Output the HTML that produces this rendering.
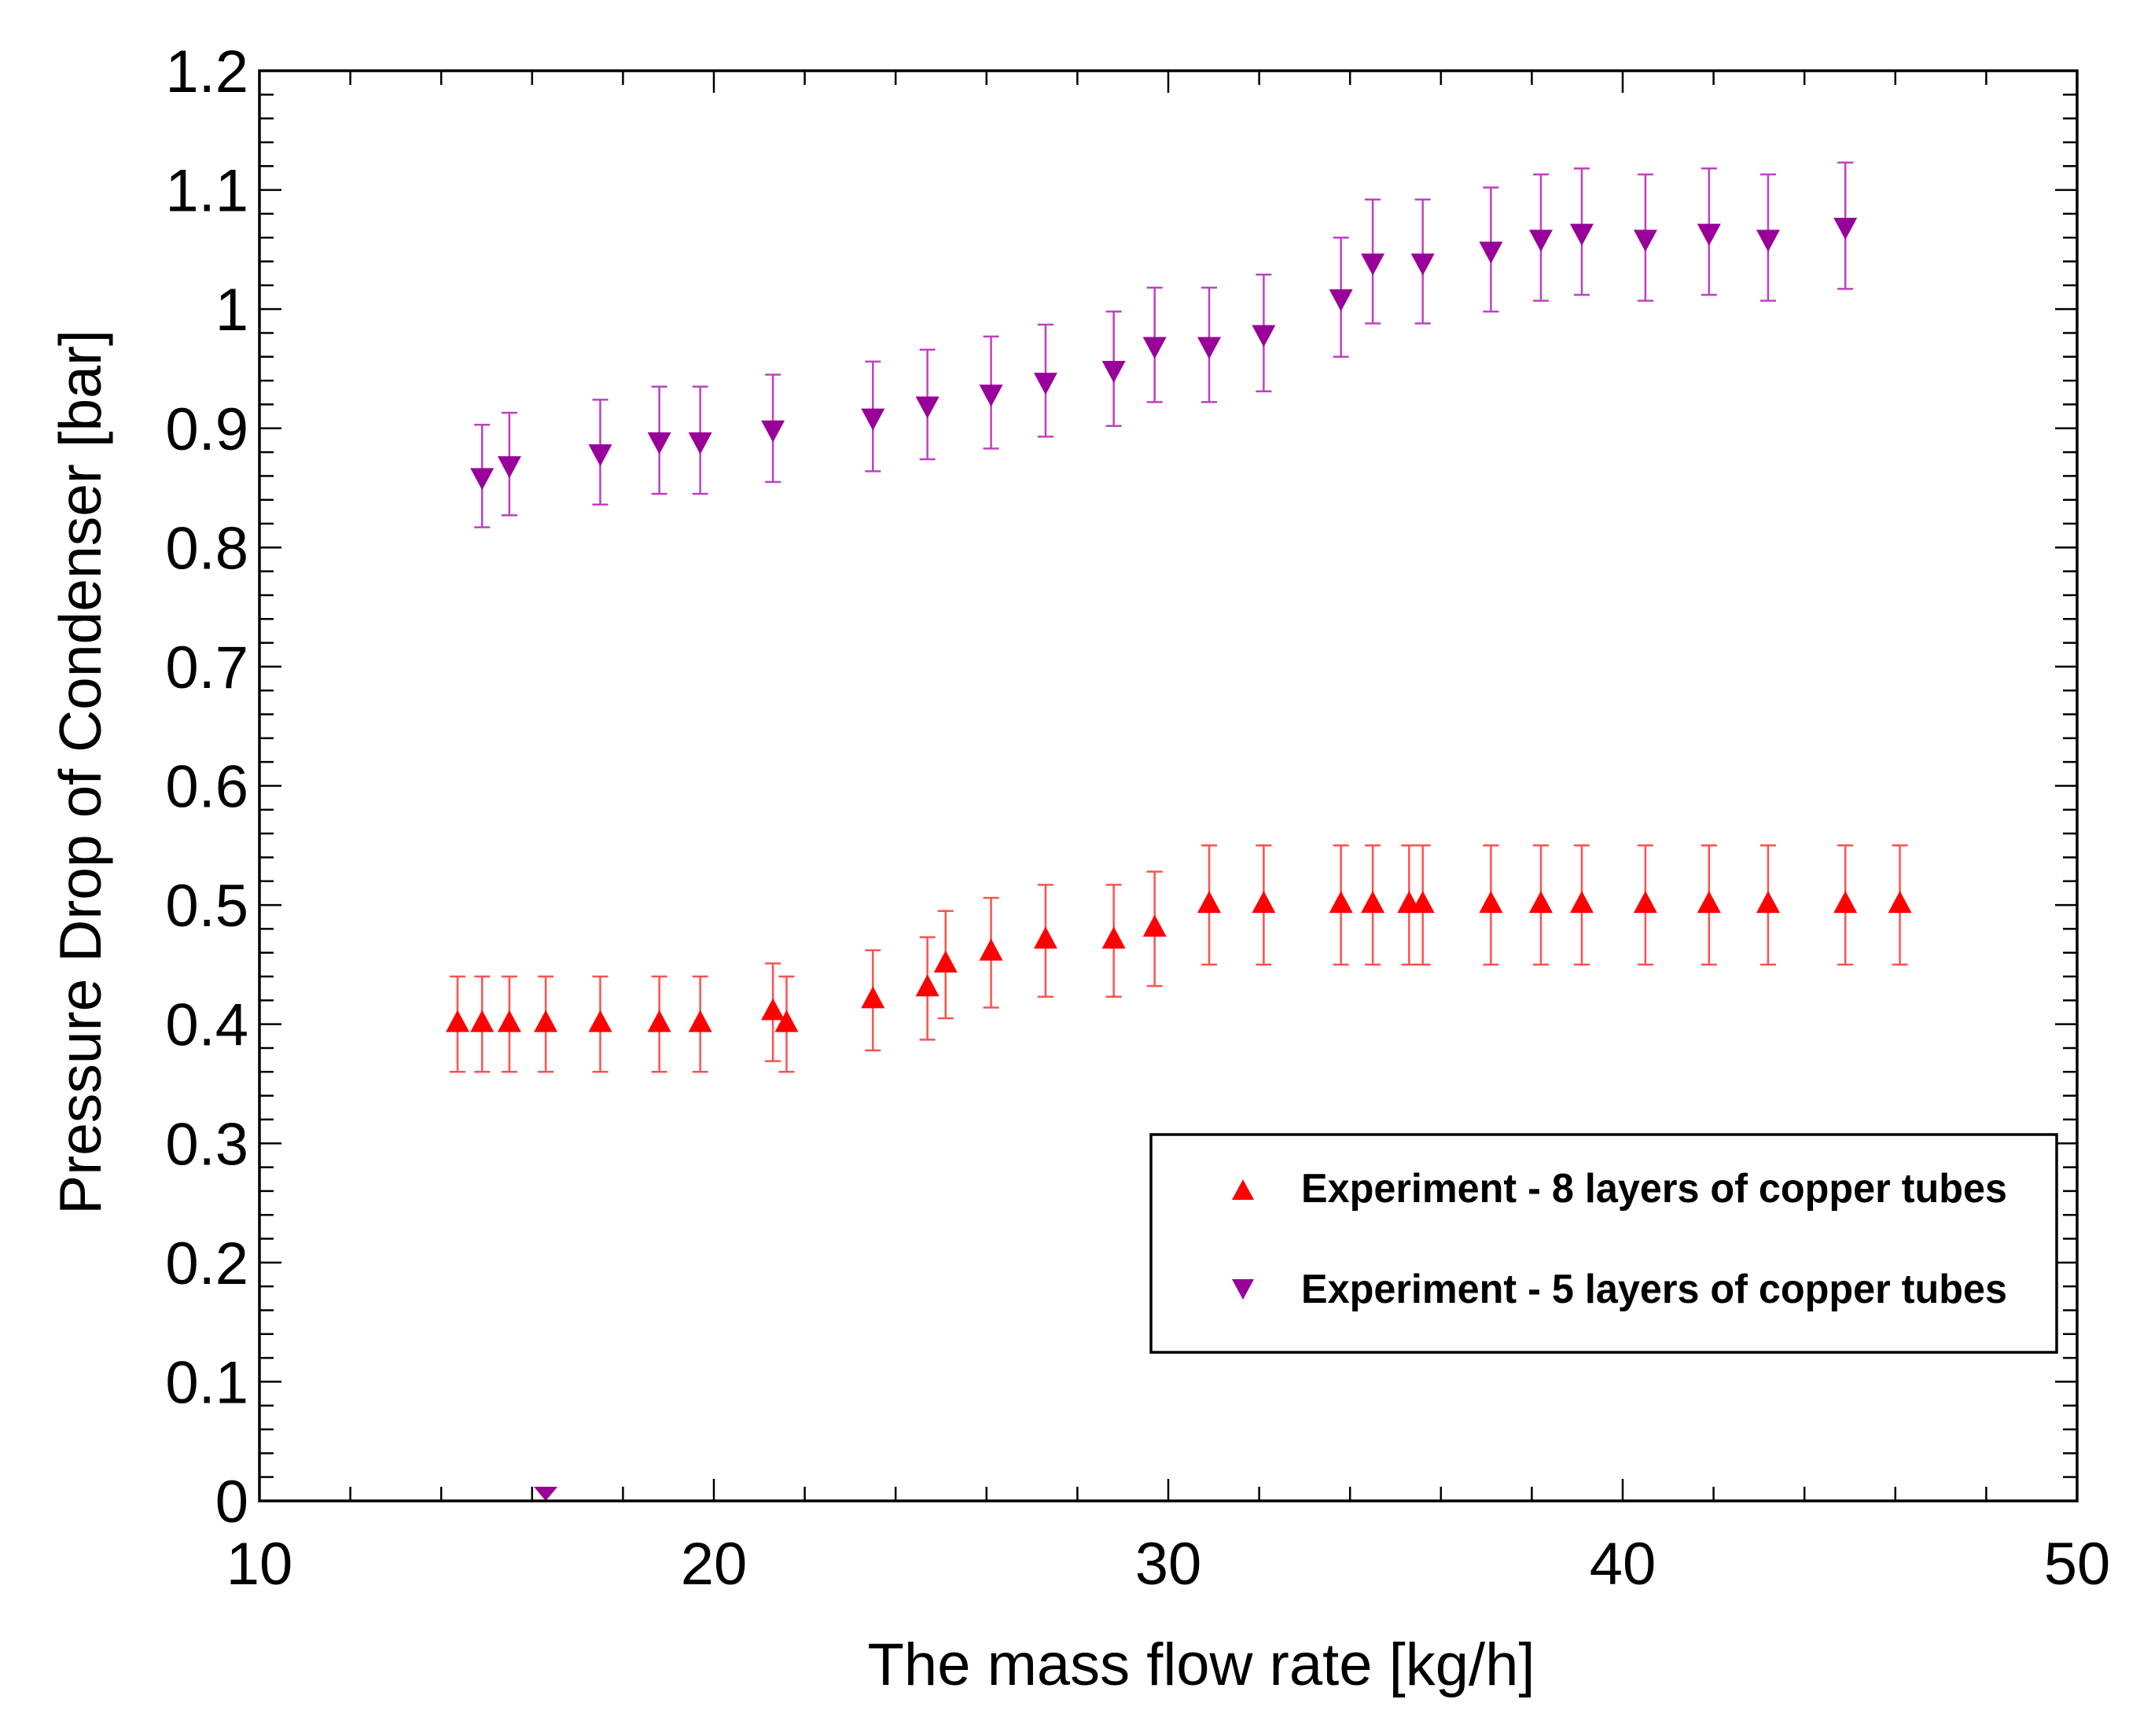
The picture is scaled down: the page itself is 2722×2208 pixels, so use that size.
<!DOCTYPE html>
<html><head><meta charset="utf-8"><style>
html,body{margin:0;padding:0;background:#fff;}
svg{display:block;font-family:"Liberation Sans",sans-serif;}
</style></head><body>
<svg id="chart" width="2722" height="2208" viewBox="0 0 2722 2208" xmlns="http://www.w3.org/2000/svg">
<g id="axes"></g>
<g id="series"></g>
<rect x="330" y="90" width="2312" height="1819" fill="none" stroke="#000" stroke-width="3.5"/>
<text x="1528" y="2143" font-size="76" text-anchor="middle">The mass flow rate [kg/h]</text>
<text transform="translate(128,982) rotate(-90)" font-size="75" text-anchor="middle">Pressure Drop of Condenser [bar]</text>
<g>
<rect x="1464" y="1443" width="1152" height="277" fill="#fff" stroke="#000" stroke-width="3.5"/>
<polygon points="1581,1500 1567,1526 1595,1526" fill="#ff0000"/>
<text x="1655" y="1529" font-size="52" font-weight="bold" font-family="'Liberation Sans Narrow','Liberation Sans',sans-serif" textLength="898" lengthAdjust="spacingAndGlyphs">Experiment - 8 layers of copper tubes</text>
<polygon points="1567,1627 1595,1627 1581,1653" fill="#990099"/>
<text x="1655" y="1657" font-size="52" font-weight="bold" font-family="'Liberation Sans Narrow','Liberation Sans',sans-serif" textLength="898" lengthAdjust="spacingAndGlyphs">Experiment - 5 layers of copper tubes</text>
</g>
</svg>
<script>
const xTicks = [10, 20, 30, 40, 50];
const yTicks = [0, 0.1, 0.2, 0.3, 0.4, 0.5, 0.6, 0.7, 0.8, 0.9, 1, 1.1, 1.2];
const yTickLabels = ["0","0.1","0.2","0.3","0.4","0.5","0.6","0.7","0.8","0.9","1","1.1","1.2"];
const redX = [14.36,14.9,15.5,16.3,17.5,18.8,19.7,21.3,21.6,23.5,24.7,25.1,26.1,27.3,28.8,29.7,30.9,32.1,33.8,34.5,35.3,35.6,37.1,38.2,39.1,40.5,41.9,43.2,44.9,46.1];
const redY = [0.4,0.4,0.4,0.4,0.4,0.4,0.4,0.41,0.4,0.42,0.43,0.45,0.46,0.47,0.47,0.48,0.5,0.5,0.5,0.5,0.5,0.5,0.5,0.5,0.5,0.5,0.5,0.5,0.5,0.5];
const redErr = [0.04,0.04,0.04,0.04,0.04,0.04,0.04,0.041,0.04,0.042,0.043,0.045,0.046,0.047,0.047,0.048,0.05,0.05,0.05,0.05,0.05,0.05,0.05,0.05,0.05,0.05,0.05,0.05,0.05,0.05];
const purX = [14.9,15.5,17.5,18.8,19.7,21.3,23.5,24.7,26.1,27.3,28.8,29.7,30.9,32.1,33.8,34.5,35.6,37.1,38.2,39.1,40.5,41.9,43.2,44.9];
const purY = [0.86,0.87,0.88,0.89,0.89,0.90,0.91,0.92,0.93,0.94,0.95,0.97,0.97,0.98,1.01,1.04,1.04,1.05,1.06,1.065,1.06,1.065,1.06,1.07];
const purErr = [0.043,0.043,0.044,0.045,0.045,0.045,0.046,0.046,0.047,0.047,0.048,0.048,0.048,0.049,0.05,0.052,0.052,0.052,0.053,0.053,0.053,0.053,0.053,0.053];
const strayX = [16.3];
const strayY = [0];

const L=330,R=2642,T=90,B=1909;
const sx=v=>L+(v-10)/40*(R-L);
const sy=v=>B-v/1.2*(B-T);
const NS="http://www.w3.org/2000/svg";
function mk(tag,attrs,parent){const e=document.createElementNS(NS,tag);for(const k in attrs)e.setAttribute(k,attrs[k]);parent.appendChild(e);return e;}
const ax=document.getElementById('axes');
const se=document.getElementById('series');
for(let v=10;v<=50;v+=2){
  const major=(v%10===0);const len=major?28:18;const x=sx(v);
  const t1=mk('line',{x1:x,x2:x,y1:B,y2:B-len,stroke:'#000','stroke-width':2.5},ax);
  
  
  const t2=mk('line',{x1:x,x2:x,y1:T,y2:T+len,stroke:'#000','stroke-width':2.5},ax);
  
  
}
xTicks.forEach(v=>{
  const t=mk('text',{x:sx(v),y:2015,'font-size':76,'text-anchor':'middle'},ax);t.textContent=v;
  
  
});
for(let i=0;i<=60;i++){
  const v=i*0.02;const major=(i%5===0);const len=major?28:18;const y=sy(v);
  const t1=mk('line',{x1:L,x2:L+len,y1:y,y2:y,stroke:'#000','stroke-width':2.5},ax);
  
  
  const t2=mk('line',{x1:R,x2:R-len,y1:y,y2:y,stroke:'#000','stroke-width':2.5},ax);
  
  
}
yTicks.forEach((v,i)=>{
  const t=mk('text',{x:316,y:sy(v)+27,'font-size':76,'text-anchor':'end'},ax);t.textContent=yTickLabels[i];
  
  
});
function draw(xs,ys,es,color,ecolor,up,name){
  xs.forEach((xv,i)=>{
    const x=sx(xv),y=sy(ys[i]),y1=sy(ys[i]+es[i]),y2=sy(ys[i]-es[i]);
    const g=mk('g',{},se);
    
    
    mk('line',{x1:x,x2:x,y1:y1,y2:y2,stroke:ecolor,'stroke-width':2.5},g);
    mk('line',{x1:x-10,x2:x+10,y1:y1,y2:y1,stroke:ecolor,'stroke-width':2.5},g);
    mk('line',{x1:x-10,x2:x+10,y1:y2,y2:y2,stroke:ecolor,'stroke-width':2.5},g);
    const pts=up?`${x},${y-18} ${x-15},${y+10} ${x+15},${y+10}`:`${x-15},${y-10} ${x+15},${y-10} ${x},${y+18}`;
    mk('polygon',{points:pts,fill:color},g);
  });
}
draw(redX,redY,redErr,'#ff0000','#ff5050',true,'8-layers');
draw(purX,purY,purErr,'#990099','#c040c0',false,'5-layers');
strayX.forEach((xv,i)=>{
  const x=sx(xv),y=sy(strayY[i]);
  const p=mk('polygon',{points:`${x-15},${y-18} ${x+15},${y-18} ${x},${y}`,fill:'#990099'},se);
  
  
});
</script>
</body></html>
